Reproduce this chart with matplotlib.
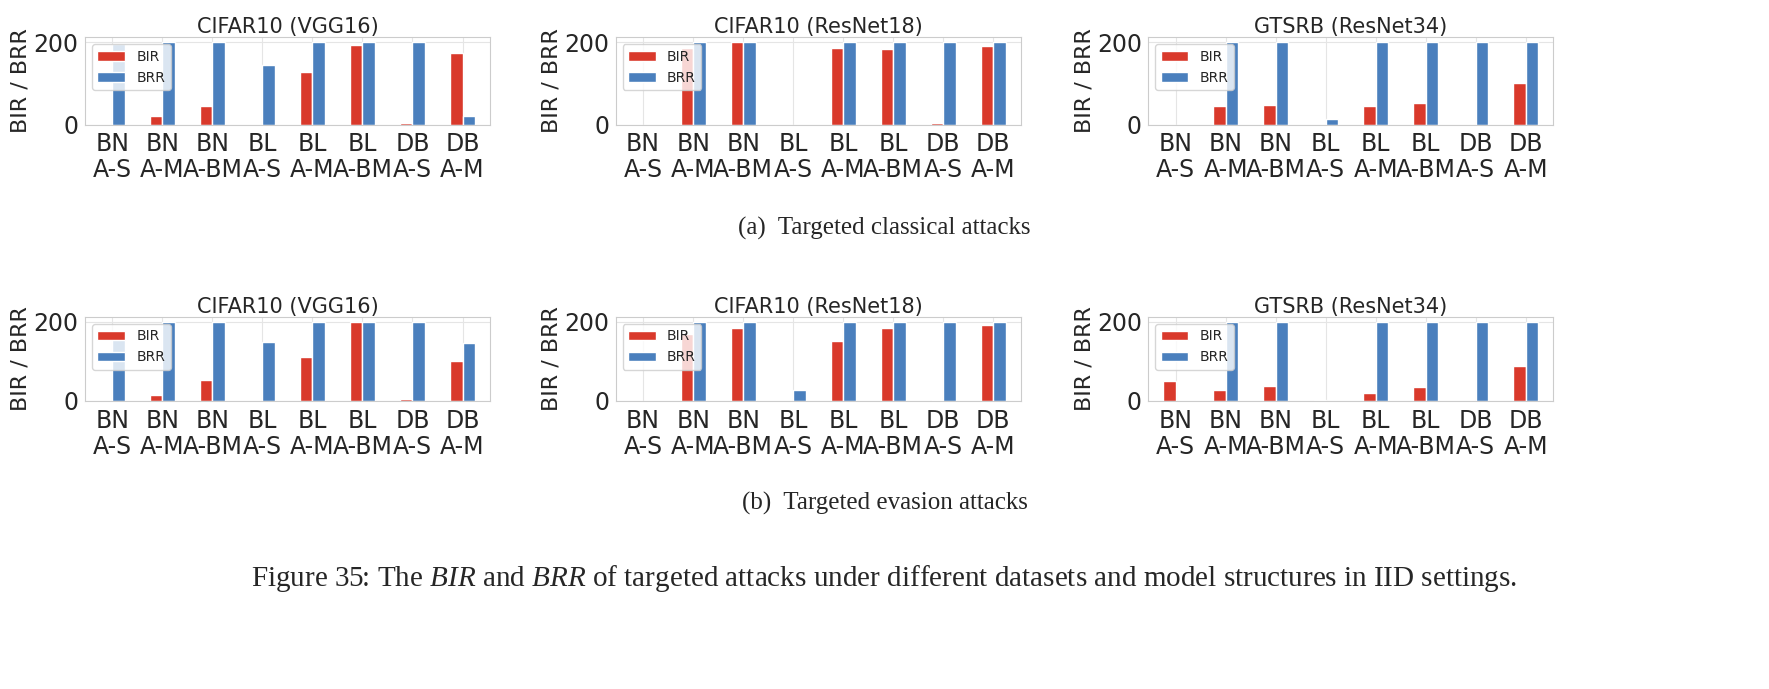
import numpy as np
import matplotlib.pyplot as plt
import seaborn as sns

sns.set_style("whitegrid")
plt.rcParams['font.family'] = ['DejaVu Sans']
plt.rcParams['mathtext.fontset'] = 'custom'
plt.rcParams['mathtext.it'] = 'Liberation Serif:italic'
plt.rcParams['mathtext.rm'] = 'Liberation Serif'

labels = ["BN\nA-S", "BN\nA-M", "BN\nA-BM", "BL\nA-S", "BL\nA-M", "BL\nA-BM", "DB\nA-S", "DB\nA-M"]
titles = ["CIFAR10 (VGG16)", "CIFAR10 (ResNet18)", "GTSRB (ResNet34)"]

# (a) targeted classical attacks
bir_a = [
    [0, 22, 45, 0, 127, 193, 5, 173],
    [0, 185, 200, 0, 185, 183, 5, 190],
    [0, 45, 47, 0, 45, 52, 0, 100],
]
brr_a = [
    [195, 200, 200, 145, 200, 200, 200, 20],
    [0, 200, 200, 0, 200, 200, 200, 200],
    [0, 200, 200, 15, 200, 200, 200, 200],
]
# (b) targeted evasion attacks
bir_b = [
    [0, 15, 52, 0, 112, 200, 5, 100],
    [0, 170, 183, 0, 152, 183, 3, 192],
    [50, 27, 38, 2, 20, 35, 0, 88],
]
brr_b = [
    [160, 200, 200, 148, 200, 200, 200, 147],
    [0, 200, 200, 28, 200, 200, 200, 200],
    [0, 200, 200, 0, 200, 200, 200, 200],
]

red = "#d9392b"
blue = "#4a7fbd"

fig = plt.figure(figsize=(17.69, 6.89), dpi=100)
lefts = [0.048, 0.348, 0.649]
w = 0.229
rows = [(0.819, 0.127, bir_a, brr_a), (0.418, 0.122, bir_b, brr_b)]

x = np.arange(len(labels))
bw = 0.25
for bottom, h, birs, brrs in rows:
    for i in range(3):
        ax = fig.add_axes([lefts[i], bottom, w, h])
        ax.bar(x - bw / 2, birs[i], bw, color=red, label="BIR")
        ax.bar(x + bw / 2, brrs[i], bw, color=blue, label="BRR")
        ax.set_xlim(-0.55, 7.55)
        ax.set_ylim(0, 212)
        ax.set_yticks([0, 200])
        ax.set_xticks(x)
        ax.set_xticklabels(labels, fontsize=17, linespacing=1.1)
        ax.tick_params(axis='y', labelsize=17, pad=1)
        ax.tick_params(axis='x', pad=2)
        ax.grid(axis='x', color='#e5e5e5')
        ax.grid(axis='y', color='#e5e5e5')
        ax.set_title(titles[i], fontsize=15, pad=3)
        ax.set_ylabel("BIR / BRR", fontsize=16, labelpad=2)
        ax.legend(loc="upper left", fontsize=10, framealpha=0.8)

fig.text(0.5, 1 - 228 / 689, "(a)  Targeted classical attacks", ha='center', va='center',
         family='Liberation Serif', fontsize=18)
fig.text(0.5, 1 - 503 / 689, "(b)  Targeted evasion attacks", ha='center', va='center',
         family='Liberation Serif', fontsize=18)
fig.text(0.5, 1 - 578 / 689,
         "Figure 35: The $BIR$ and $BRR$ of targeted attacks under different datasets and model structures in IID settings.",
         ha='center', va='center', family='Liberation Serif', fontsize=21)
fig.savefig("out.png", dpi=100)
